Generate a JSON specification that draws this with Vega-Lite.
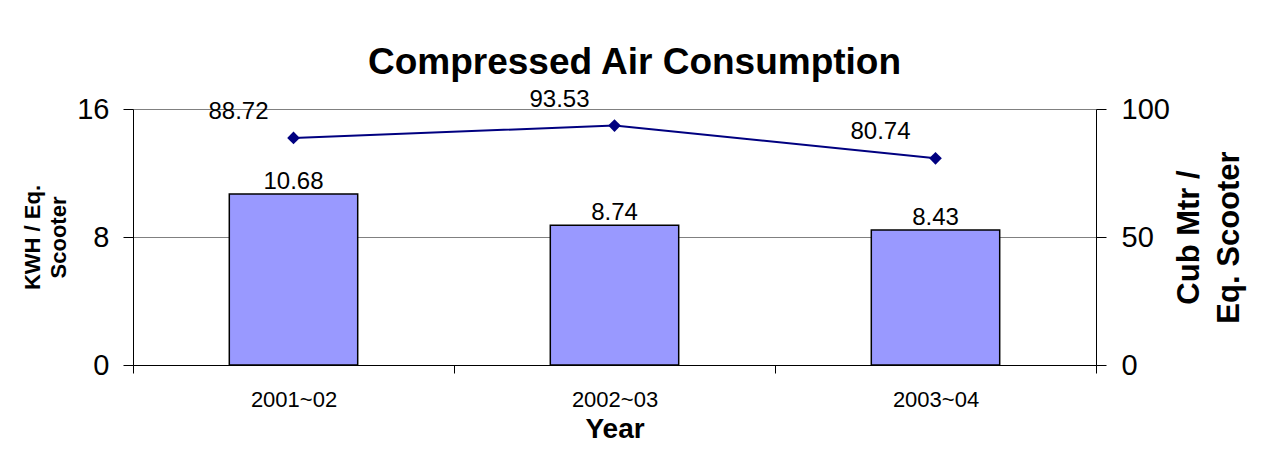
{
  "$schema": "https://vega.github.io/schema/vega-lite/v6.json",
  "width": 963,
  "height": 256,
  "autosize": {"type": "none"},
  "padding": {"left": 133, "top": 109, "right": 166, "bottom": 87},
  "background": "white",
  "config": {
    "font": "Liberation Sans",
    "view": {"stroke": null},
    "axis": {"domainColor": "black", "tickColor": "black", "labelColor": "black", "titleColor": "black", "labelFont": "Liberation Sans", "titleFont": "Liberation Sans"}
  },
  "title": {"text": "Compressed Air Consumption", "fontSize": 37, "fontWeight": "bold", "font": "Liberation Sans", "color": "black", "anchor": "middle", "dx": 20, "offset": -23, "baseline": "alphabetic"},
  "data": {"values": [
    {"year": "2001~02", "kwh": 10.68, "cub": 88.72},
    {"year": "2002~03", "kwh": 8.74, "cub": 93.53},
    {"year": "2003~04", "kwh": 8.43, "cub": 80.74}
  ]},
  "encoding": {
    "x": {"field": "year", "type": "nominal", "sort": null,
      "scale": {"paddingInner": 0, "paddingOuter": 0},
      "axis": {"labelAngle": 0, "labelFontSize": 22, "labelPadding": 16, "tickBand": "extent", "tickSize": 8, "title": "Year", "titleFontSize": 28, "titleFontWeight": "bold", "titlePadding": 5, "grid": false}}
  },
  "layer": [
    {
      "encoding": {"y": {"field": "kwh", "type": "quantitative", "scale": {"domain": [0, 16]},
        "axis": {"values": [0, 8, 16], "grid": true, "gridColor": "#808080", "gridWidth": 1, "labelFontSize": 29, "labelPadding": 14, "tickSize": 10, "title": ["KWH / Eq.", "Scooter"], "titleFontSize": 22, "titleFontWeight": "bold", "titleLineHeight": 26, "titlePadding": 6}}},
      "layer": [
        {"mark": {"type": "bar", "width": {"band": 0.4}, "fill": "#9999FF", "stroke": "black", "strokeWidth": 1.5}},
        {"mark": {"type": "text", "fontSize": 24, "dy": -5, "baseline": "alphabetic", "color": "black"}, "encoding": {"text": {"field": "kwh", "type": "quantitative", "format": ".2f"}}}
      ]
    },
    {
      "encoding": {"y": {"field": "cub", "type": "quantitative", "scale": {"domain": [0, 100]},
        "axis": {"orient": "right", "values": [0, 50, 100], "grid": false, "labelFontSize": 29, "labelPadding": 15, "tickSize": 10, "title": ["Cub Mtr /", "Eq. Scooter"], "titleFontSize": 31, "titleFontWeight": "bold", "titleLineHeight": 40, "titleAngle": 270, "titlePadding": -4}}},
      "layer": [
        {"mark": {"type": "line", "color": "#000080", "strokeWidth": 2}},
        {"mark": {"type": "point", "shape": "diamond", "filled": true, "size": 160, "color": "#000080", "opacity": 1}},
        {"mark": {"type": "text", "fontSize": 24, "dx": -55, "dy": -26, "color": "black"}, "encoding": {"text": {"field": "cub", "type": "quantitative", "format": ".2f"}}}
      ]
    }
  ],
  "resolve": {"scale": {"y": "independent"}}
}
